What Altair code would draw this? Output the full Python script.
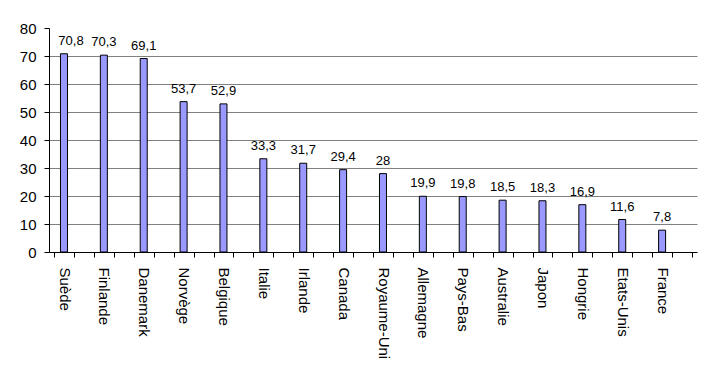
import json
import altair as alt
import pandas as pd

# Data
pays = ["Suède", "Finlande", "Danemark", "Norvège", "Belgique", "Italie", "Irlande",
        "Canada", "Royaume-Uni", "Allemagne", "Pays-Bas", "Australie", "Japon",
        "Hongrie", "Etats-Unis", "France"]
valeurs = [70.8, 70.3, 69.1, 53.7, 52.9, 33.3, 31.7, 29.4, 28, 19.9, 19.8, 18.5,
           18.3, 16.9, 11.6, 7.8]
graduations_y = [0, 10, 20, 30, 40, 50, 60, 70, 80]

df = pd.DataFrame({
    "pays": pays,
    "valeur": valeurs,
    "libelle": [f"{v:g}".replace(".", ",") for v in valeurs],
    "rang": list(range(len(pays))),
})

n = len(pays)
x_ticks = [i / 2 for i in range(2 * n + 1)]
label_expr = (
    f"(datum.value % 1 == 0 && datum.value < {n}) ? "
    f"{json.dumps(pays, ensure_ascii=False)}[datum.value] : ''"
)

FONT = "Liberation Sans"

base = alt.Chart(df).transform_calculate(
    pos="datum.rang + 0.25"
).encode(
    x=alt.X(
        "pos:Q",
        scale=alt.Scale(domain=[0, n], nice=False, zero=True),
        axis=alt.Axis(
            values=x_ticks, labelExpr=label_expr, labelAngle=90,
            labelAlign="left", labelBaseline="middle", labelOffset=10,
            labelPadding=10, tickSize=5, tickColor="black", domainColor="black",
            grid=False, title=None, labelFlush=False, labelOverlap=False,
            labelBound=False, labelFontSize=15, labelFont=FONT, labelColor="black",
        ),
    ),
    y=alt.Y(
        "valeur:Q",
        scale=alt.Scale(domain=[0, 80], nice=False),
        axis=alt.Axis(
            values=graduations_y, tickSize=5, labelPadding=8, tickColor="black",
            domainColor="black", gridColor="#808080",
            gridOpacity=alt.condition("datum.value >= 80 || datum.value <= 0",
                                      alt.value(0), alt.value(1)),
            title=None, labelFontSize=15, labelFont=FONT, labelColor="black",
            labelFlush=False,
        ),
    ),
)

bars = base.mark_bar(size=7, fill="#9999FF", stroke="black", strokeWidth=1)

text_rest = base.transform_filter("datum.rang > 0").mark_text(
    baseline="alphabetic", dy=-9, fontSize=13, font=FONT, color="black"
).encode(text="libelle:N")

text_first = base.transform_filter("datum.rang == 0").mark_text(
    baseline="alphabetic", dy=-9, dx=7, fontSize=13, font=FONT, color="black"
).encode(text="libelle:N")

chart = alt.layer(bars, text_rest, text_first).properties(
    width=648,
    height=224,
    padding={"left": 41, "top": 20, "right": 7, "bottom": 116},
    autosize=alt.AutoSizeParams(type="none"),
).configure_view(stroke=None)

chart.save("out.html", embed_options={"renderer": "svg", "actions": False})
